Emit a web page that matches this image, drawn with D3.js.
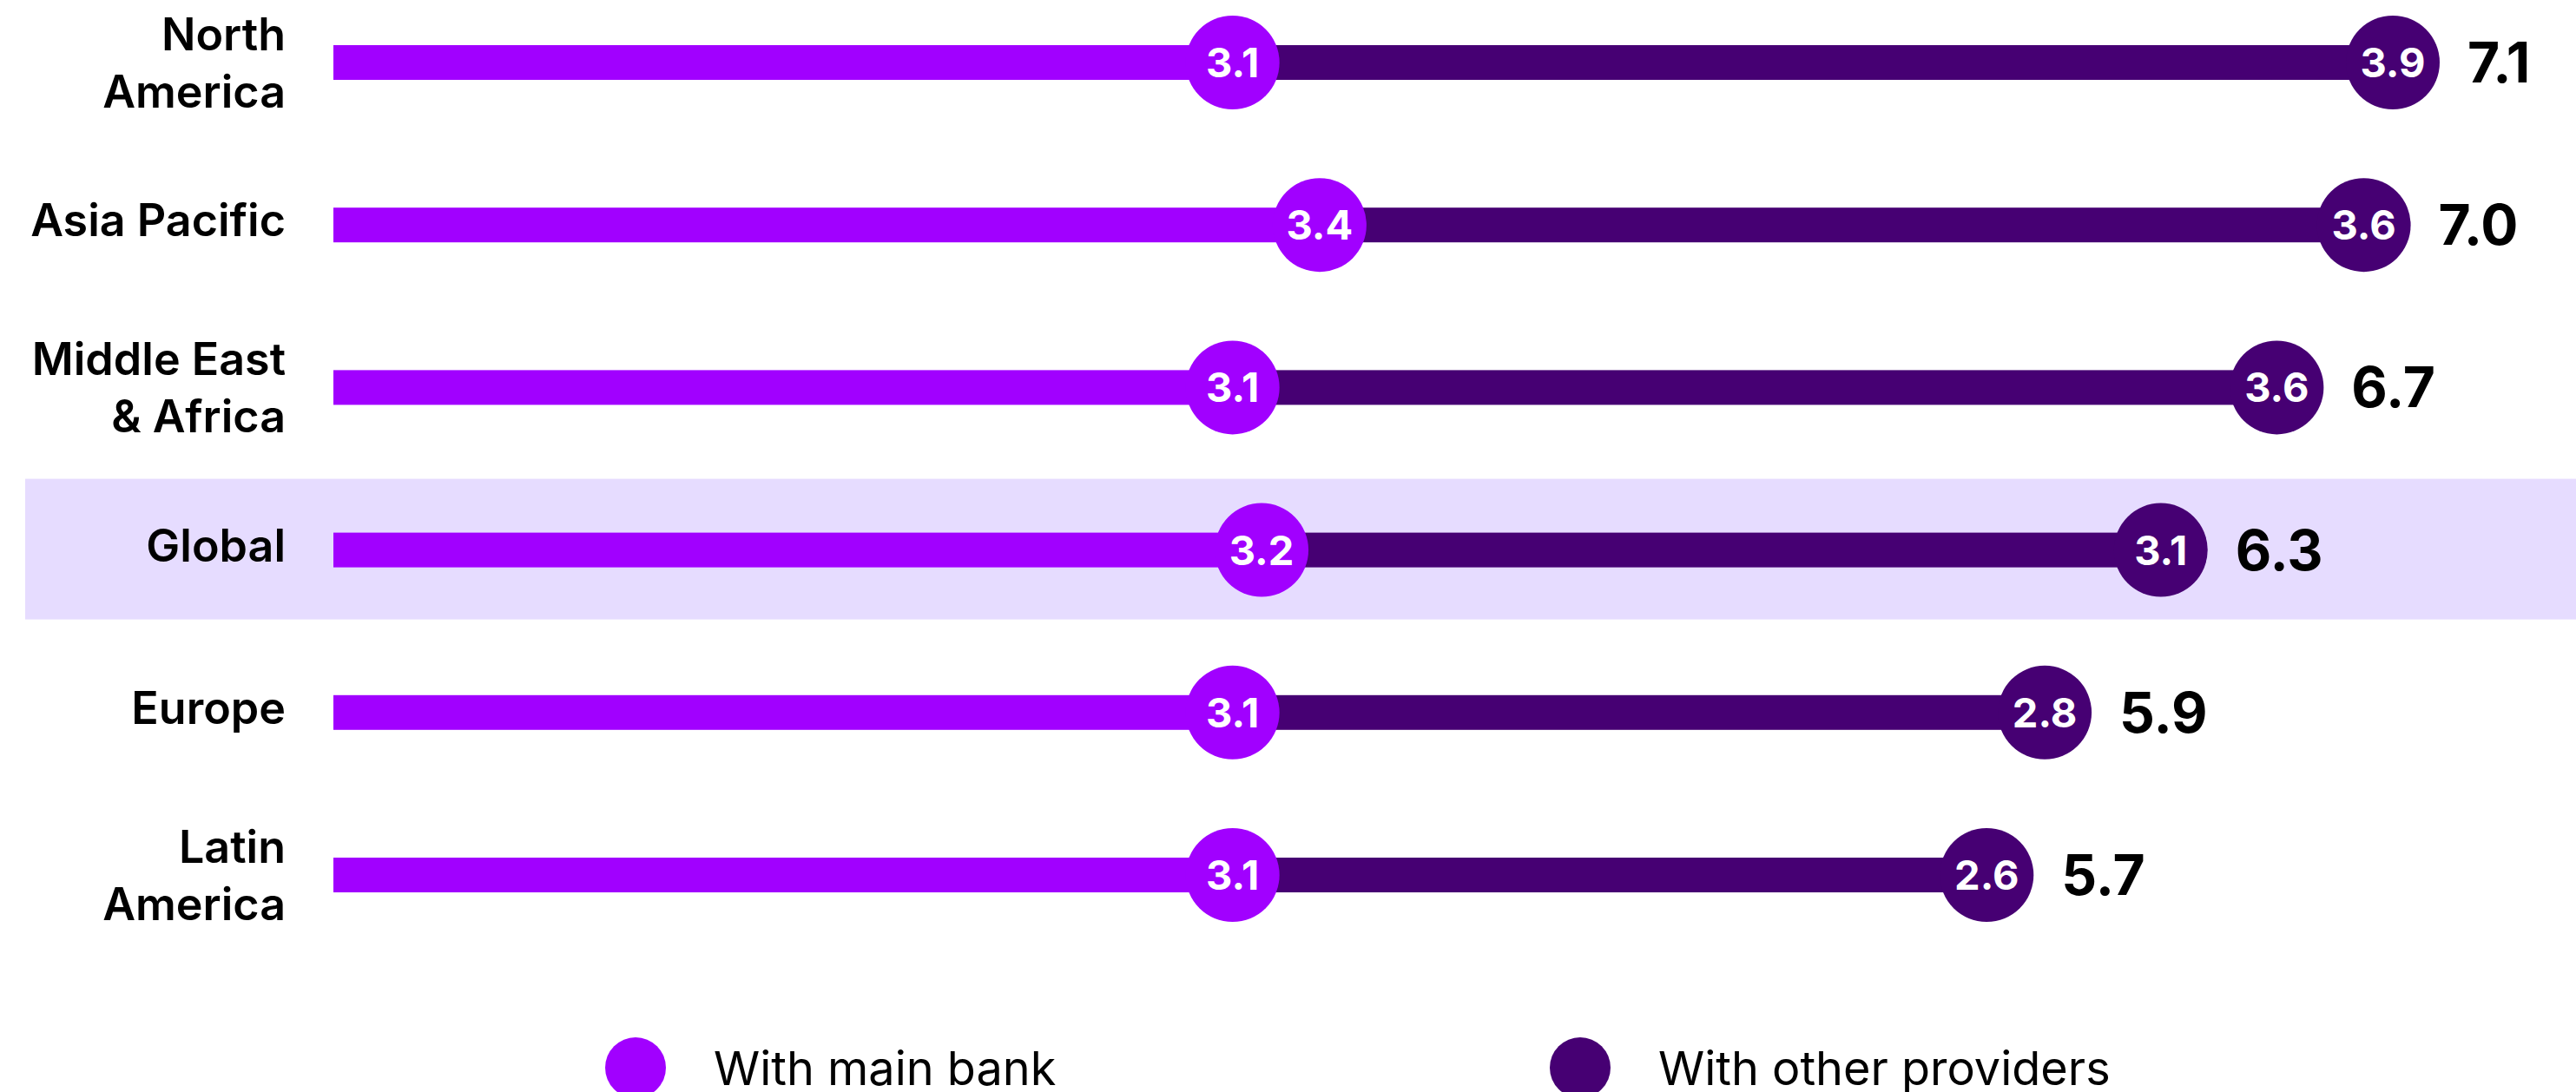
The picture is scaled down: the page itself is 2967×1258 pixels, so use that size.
<!DOCTYPE html>
<html>
<head>
<meta charset="utf-8">
<script src="https://cdn.jsdelivr.net/npm/d3@7"></script>
<style>
  html, body { margin: 0; padding: 0; background: #fff; }
  svg { display: block; font-family: Inter, "Noto Sans", sans-serif; }
</style>
</head>
<body>
<svg id="chart" width="2967" height="1258"></svg>
<script>
// data
var regions = ["North America", "Asia Pacific", "Middle East & Africa", "Global", "Europe", "Latin America"];
var labelLines = [["North", "America"], ["Asia Pacific"], ["Middle East", "& Africa"], ["Global"], ["Europe"], ["Latin", "America"]];
var mainBank = [3.1, 3.4, 3.1, 3.2, 3.1, 3.1];
var otherProviders = [3.9, 3.6, 3.6, 3.1, 2.8, 2.6];
var totals = [7.1, 7.0, 6.7, 6.3, 5.9, 5.7];
var highlight = "Global";
var seriesNames = ["With main bank", "With other providers"];

var colMain = "#a100ff";
var colOther = "#460073";

var svg = d3.select("#chart");

var x = d3.scaleLinear().domain([0, 7.1]).range([384, 2756]);
var y = d3.scalePoint().domain(regions).range([72, 1008]);

var rows = regions.map(function (r, i) {
    return { region: r, lines: labelLines[i], main: mainBank[i], other: otherProviders[i], total: totals[i] };
});

// highlight band behind Global
svg.append("rect")
    .attr("x", 29)
    .attr("y", y(highlight) - 82)
    .attr("width", 2967 - 29)
    .attr("height", 162)
    .attr("fill", "#e6dcff");

var g = svg.selectAll("g.row")
    .data(rows)
    .enter().append("g")
    .attr("class", "row")
    .attr("transform", function (d) { return "translate(0," + y(d.region) + ")"; });

// category labels
g.each(function (d) {
    var t = d3.select(this).append("text")
        .attr("text-anchor", "end")
        .attr("font-size", 52)
        .attr("font-weight", 600)
        .attr("fill", "#000");
    if (d.lines.length === 1) {
        t.append("tspan").attr("x", 329).attr("y", 13).text(d.lines[0]);
    } else {
        t.append("tspan").attr("x", 329).attr("y", -14).text(d.lines[0]);
        t.append("tspan").attr("x", 329).attr("y", 52).text(d.lines[1]);
    }
});

// bars
g.append("rect")
    .attr("x", x(0))
    .attr("y", -20)
    .attr("height", 40)
    .attr("width", function (d) { return x(d.main) - x(0); })
    .attr("fill", colMain);

g.append("rect")
    .attr("x", function (d) { return x(d.main); })
    .attr("y", -20)
    .attr("height", 40)
    .attr("width", function (d) { return x(d.total) - x(d.main); })
    .attr("fill", colOther);

// dots
g.append("circle")
    .attr("cx", function (d) { return x(d.main); })
    .attr("r", 54)
    .attr("fill", colMain);

g.append("circle")
    .attr("cx", function (d) { return x(d.total); })
    .attr("r", 54)
    .attr("fill", colOther);

g.append("text")
    .attr("x", function (d) { return x(d.main); })
    .attr("y", 17)
    .attr("text-anchor", "middle")
    .attr("font-size", 47)
    .attr("font-weight", 700)
    .attr("fill", "#fff")
    .text(function (d) { return d.main.toFixed(1); });

g.append("text")
    .attr("x", function (d) { return x(d.total); })
    .attr("y", 17)
    .attr("text-anchor", "middle")
    .attr("font-size", 47)
    .attr("font-weight", 700)
    .attr("fill", "#fff")
    .text(function (d) { return d.other.toFixed(1); });

// totals
g.append("text")
    .attr("x", function (d) { return x(d.total) + 86; })
    .attr("y", 23)
    .attr("font-size", 64)
    .attr("font-weight", 700)
    .attr("fill", "#000")
    .text(function (d) { return d.total.toFixed(1); });

// legend
var legendX = [732, 1820];
var lg = svg.selectAll("g.legend")
    .data(seriesNames)
    .enter().append("g")
    .attr("class", "legend")
    .attr("transform", function (d, i) { return "translate(" + legendX[i] + ",1230)"; });

lg.append("circle")
    .attr("r", 35)
    .attr("fill", function (d, i) { return i === 0 ? colMain : colOther; });

lg.append("text")
    .attr("x", 90)
    .attr("y", 20)
    .attr("font-size", 54)
    .attr("font-weight", 400)
    .attr("fill", "#000")
    .text(function (d) { return d; });
</script>
</body>
</html>
